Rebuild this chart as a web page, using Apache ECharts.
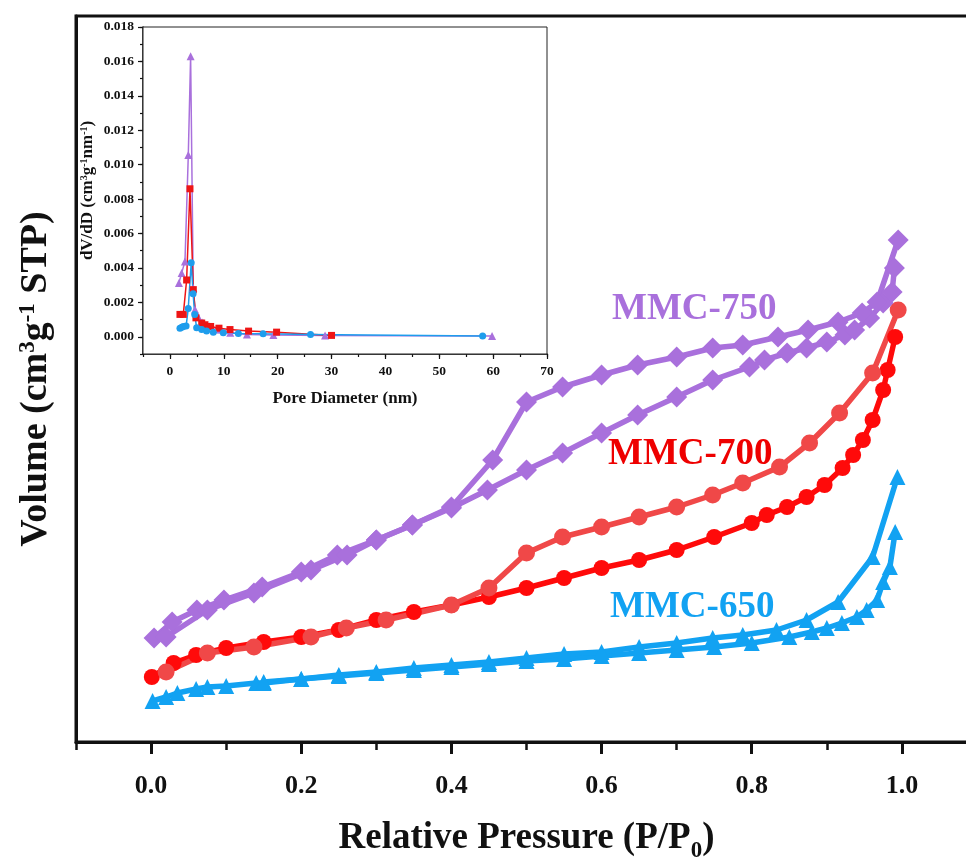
<!DOCTYPE html>
<html>
<head>
<meta charset="utf-8">
<title>N2 isotherms and pore size distribution of MMC samples</title>
<script src="https://cdn.jsdelivr.net/npm/echarts@6/dist/echarts.min.js"></script>
<style>
  html, body { margin: 0; padding: 0; background: #fff; }
  #chart { width: 966px; height: 859px; }
</style>
</head>
<body>
<div id="chart"></div>
<script>
// N2 adsorption / desorption isotherms: [P/P0, volume adsorbed (cm3/g STP)]
const mmc650Ads = [[0.002,20.5],[0.02,22.5],[0.035,24.5],[0.06,26.5],[0.075,27.5],[0.10,28],[0.14,29.5],[0.15,29.5],[0.20,31.5],[0.25,33],[0.30,34.5],[0.35,36],[0.40,37.5],[0.45,39],[0.50,40.5],[0.55,41.5],[0.60,43],[0.65,44.5],[0.70,46],[0.75,47.5],[0.80,49.5],[0.85,52.5],[0.88,55],[0.90,57],[0.92,59.5],[0.94,62.5],[0.953,66],[0.967,71],[0.975,80],[0.984,87.5],[0.991,105]];
const mmc650Des = [[0.994,132.5],[0.961,92.5],[0.915,70],[0.873,61],[0.833,56],[0.788,53.5],[0.748,52],[0.70,49.5],[0.65,47.5],[0.60,45],[0.55,44],[0.50,42],[0.45,40],[0.40,38.5],[0.35,37],[0.30,35],[0.25,33.5],[0.20,31.5],[0.15,30]];

const mmc700Ads = [[0.001,32.5],[0.03,39.5],[0.06,43.5],[0.10,47],[0.15,50],[0.20,52.5],[0.25,56],[0.30,61],[0.35,65],[0.40,68.5],[0.45,72.5],[0.50,77],[0.55,82],[0.60,87],[0.65,91],[0.70,96],[0.75,102.5],[0.80,109.5],[0.82,113.5],[0.847,117.5],[0.873,122.5],[0.897,128.5],[0.921,137],[0.935,143.5],[0.948,151],[0.961,161],[0.975,176],[0.981,186],[0.991,202.5]];
const mmc700Des = [[0.995,216],[0.961,184.5],[0.917,164.5],[0.877,149.5],[0.837,137.5],[0.788,129.5],[0.748,123.5],[0.70,117.5],[0.65,112.5],[0.60,107.5],[0.548,102.5],[0.50,94.5],[0.45,77],[0.40,68.5],[0.313,61],[0.26,57],[0.213,52.5],[0.137,47.5],[0.075,44.5],[0.02,35]];

const mmc750Ads = [[0.004,52],[0.028,60],[0.061,66],[0.097,71],[0.148,77.5],[0.20,85],[0.248,93.5],[0.30,101],[0.348,108.5],[0.40,117],[0.448,126],[0.50,136],[0.548,144.5],[0.60,154.5],[0.648,163.5],[0.70,172.5],[0.748,181],[0.797,187.5],[0.817,191],[0.847,194.5],[0.873,197],[0.90,200],[0.924,203.5],[0.937,206],[0.957,212],[0.975,219.5],[0.987,225],[0.99,237]];
const mmc750Des = [[0.995,251],[0.967,220],[0.947,214.5],[0.915,210],[0.875,206],[0.835,202.5],[0.788,198.5],[0.748,197],[0.70,192.5],[0.648,188.5],[0.60,183.5],[0.548,177.5],[0.50,170],[0.455,141],[0.40,117.5],[0.348,108.5],[0.30,101],[0.261,93.5],[0.213,86],[0.137,74.5],[0.075,66],[0.02,52.5]];

// Pore size distribution (inset): [pore diameter (nm), dV/dD]
const psd650 = [[1.86,0.0005],[2.2,0.00055],[2.5,0.0006],[3.0,0.00062],[3.4,0.00164],[3.95,0.0043],[4.3,0.0025],[4.6,0.0013],[4.96,0.00052],[5.9,0.00042],[6.8,0.00033],[8.05,0.00027],[9.9,0.00023],[12.7,0.00019],[17.3,0.00017],[26.1,0.00014],[58.05,0.00004]];
const psd700 = [[1.86,0.0013],[2.48,0.0013],[3.1,0.0033],[3.72,0.0086],[4.34,0.00274],[4.83,0.0011],[5.9,0.0008],[6.5,0.0007],[7.56,0.0006],[9.1,0.0005],[11.15,0.00042],[14.6,0.00033],[19.8,0.00027],[30,0.00008]];
const psd750 = [[1.67,0.00313],[2.17,0.0037],[2.79,0.00438],[3.41,0.01056],[3.84,0.0163],[4.33,0.00284],[4.65,0.00158],[5.2,0.0012],[6.1,0.00083],[7.4,0.00061],[9.3,0.00042],[11.2,0.00023],[14.3,0.00013],[19.2,0.0001],[28.8,0.00008],[59.8,0.00004]];

// Tick labels
const pressureTicks = [0, 0.2, 0.4, 0.6, 0.8, 1.0];
const diameterTicks = [0, 10, 20, 30, 40, 50, 60, 70];
const psdTicks = [0, 0.002, 0.004, 0.006, 0.008, 0.010, 0.012, 0.014, 0.016, 0.018];

const sampleNames = ['MMC-650', 'MMC-700', 'MMC-750'];

const SERIF = "'Times New Roman', 'Liberation Serif', serif";
const BLUE = '#12A2F2';
const RED = '#FF0A0A';
const RED_LIGHT = '#F04848';
const PURPLE = '#A970DC';

const chart = echarts.init(document.getElementById('chart'), null, { renderer: 'canvas' });

function isoSeries(name, data, color, symbol, size) {
  return {
    name, type: 'line', xAxisIndex: 0, yAxisIndex: 0, data,
    symbol, symbolSize: size, showSymbol: true,
    lineStyle: { color, width: 5.5 }, itemStyle: { color },
    animation: false, z: 3
  };
}
function psdSeries(name, data, color, symbol, size) {
  return {
    name, type: 'line', xAxisIndex: 2, yAxisIndex: 2, data,
    symbol, symbolSize: size, showSymbol: true,
    lineStyle: { color, width: 1.5 }, itemStyle: { color },
    animation: false, z: 5
  };
}

const option = {
  backgroundColor: '#fff',
  grid: [
    { left: 76, top: 16, right: -11, bottom: 117, outerBoundsMode: 'none', containLabel: false,
      show: true, borderColor: '#111', borderWidth: 3, backgroundColor: 'transparent' },
    { left: 143, top: 27, width: 404, height: 327, outerBoundsMode: 'none', containLabel: false,
      show: true, borderColor: '#222', borderWidth: 1, backgroundColor: '#fff', z: 4 }
  ],
  xAxis: [
    {
      type: 'value', gridIndex: 0, min: -0.1, max: 1.1,
      name: 'Relative Pressure (P/P{sub|0})', nameLocation: 'middle', nameGap: 78,
      nameTextStyle: {
        fontFamily: SERIF, fontWeight: 'bold', fontSize: 37, color: '#111',
        rich: { sub: { fontFamily: SERIF, fontWeight: 'bold', fontSize: 23, color: '#111', verticalAlign: 'bottom', padding: [0, 0, -6, 0] } }
      },
      axisLine: { show: true, onZero: false, lineStyle: { color: '#111', width: 3 } },
      axisTick: { show: true, inside: false, length: 12, lineStyle: { color: '#111', width: 3 }, customValues: pressureTicks },
      axisLabel: { show: true, margin: 31, fontFamily: SERIF, fontWeight: 'bold', fontSize: 26, color: '#111', customValues: pressureTicks, formatter: v => v.toFixed(1) },
      splitLine: { show: false }
    },
    {
      // minor ticks of the pressure axis
      type: 'value', gridIndex: 0, min: -0.1, max: 1.1, interval: 0.1, position: 'bottom',
      axisLine: { show: false, onZero: false },
      axisTick: { show: true, inside: false, length: 8, lineStyle: { color: '#111', width: 2.5 } },
      axisLabel: { show: false }, splitLine: { show: false }
    },
    {
      type: 'value', gridIndex: 1, min: -5, max: 70,
      name: 'Pore Diameter (nm)', nameLocation: 'middle', nameGap: 36,
      nameTextStyle: { fontFamily: SERIF, fontWeight: 'bold', fontSize: 17, color: '#111' },
      axisLine: { show: true, onZero: false, lineStyle: { color: '#111', width: 1.5 } },
      axisTick: { show: true, inside: false, length: 5, lineStyle: { color: '#111', width: 1.2 }, customValues: diameterTicks },
      axisLabel: { show: true, margin: 11, fontFamily: SERIF, fontWeight: 'bold', fontSize: 13.5, color: '#111', customValues: diameterTicks },
      splitLine: { show: false }
    },
    {
      // minor ticks of the pore diameter axis
      type: 'value', gridIndex: 1, min: -5, max: 70, interval: 5, position: 'bottom',
      axisLine: { show: false, onZero: false },
      axisTick: { show: true, inside: false, length: 3, lineStyle: { color: '#111', width: 1.2 } },
      axisLabel: { show: false }, splitLine: { show: false }
    }
  ],
  yAxis: [
    {
      type: 'value', gridIndex: 0, min: 0, max: 363,
      name: 'Volume (cm{sup|3}g{sup|-1} STP)', nameLocation: 'middle', nameRotate: 90, nameGap: 21,
      nameTextStyle: {
        fontFamily: SERIF, fontWeight: 'bold', fontSize: 38, color: '#111',
        rich: { sup: { fontFamily: SERIF, fontWeight: 'bold', fontSize: 23, color: '#111', verticalAlign: 'top', padding: [0, 0, 15, 0] } }
      },
      axisLine: { show: true, onZero: false, lineStyle: { color: '#111', width: 3 } },
      axisTick: { show: false }, axisLabel: { show: false }, splitLine: { show: false }
    },
    {
      type: 'value', gridIndex: 0, min: 0, max: 363, show: false
    },
    {
      type: 'value', gridIndex: 1, min: -0.001, max: 0.018,
      name: 'dV/dD (cm{sup|3}g{sup|-1}nm{sup|-1})', nameLocation: 'middle', nameRotate: 90, nameGap: 47,
      nameTextStyle: {
        fontFamily: SERIF, fontWeight: 'bold', fontSize: 17, color: '#111',
        rich: { sup: { fontFamily: SERIF, fontWeight: 'bold', fontSize: 10, color: '#111', verticalAlign: 'top', padding: [0, 0, 7, 0] } }
      },
      axisLine: { show: true, onZero: false, lineStyle: { color: '#111', width: 1.5 } },
      axisTick: { show: true, inside: false, length: 5, lineStyle: { color: '#111', width: 1.2 }, customValues: psdTicks },
      axisLabel: { show: true, margin: 9, fontFamily: SERIF, fontWeight: 'bold', fontSize: 13.5, color: '#111', customValues: psdTicks, formatter: v => v.toFixed(3) },
      splitLine: { show: false }
    },
    {
      // minor ticks of the dV/dD axis
      type: 'value', gridIndex: 1, min: -0.001, max: 0.018, interval: 0.001, position: 'left',
      axisLine: { show: false, onZero: false },
      axisTick: { show: true, inside: false, length: 3, lineStyle: { color: '#111', width: 1.2 } },
      axisLabel: { show: false }, splitLine: { show: false }
    }
  ],
  series: [
    isoSeries(sampleNames[0] + ' adsorption', mmc650Ads, BLUE, 'triangle', 16),
    isoSeries(sampleNames[0] + ' desorption', mmc650Des, BLUE, 'triangle', 16),
    isoSeries(sampleNames[1] + ' adsorption', mmc700Ads, RED, 'circle', 16),
    isoSeries(sampleNames[1] + ' desorption', mmc700Des, RED_LIGHT, 'circle', 17),
    isoSeries(sampleNames[2] + ' adsorption', mmc750Ads, PURPLE, 'diamond', 21),
    isoSeries(sampleNames[2] + ' desorption', mmc750Des, PURPLE, 'diamond', 21),
    psdSeries(sampleNames[2], psd750, PURPLE, 'triangle', 8),
    psdSeries(sampleNames[1], psd700, '#EE1515', 'rect', 7),
    psdSeries(sampleNames[0], psd650, '#1E9DEC', 'circle', 7)
  ],
  graphic: [
    { type: 'text', left: 612, top: 291, z: 10, style: { text: sampleNames[2], font: "bold 37px 'Times New Roman', 'Liberation Serif', serif", fill: PURPLE } },
    { type: 'text', left: 608, top: 436, z: 10, style: { text: sampleNames[1], font: "bold 37px 'Times New Roman', 'Liberation Serif', serif", fill: '#EE0000' } },
    { type: 'text', left: 610, top: 589, z: 10, style: { text: sampleNames[0], font: "bold 37px 'Times New Roman', 'Liberation Serif', serif", fill: BLUE } }
  ]
};

chart.setOption(option);
</script>
</body>
</html>
